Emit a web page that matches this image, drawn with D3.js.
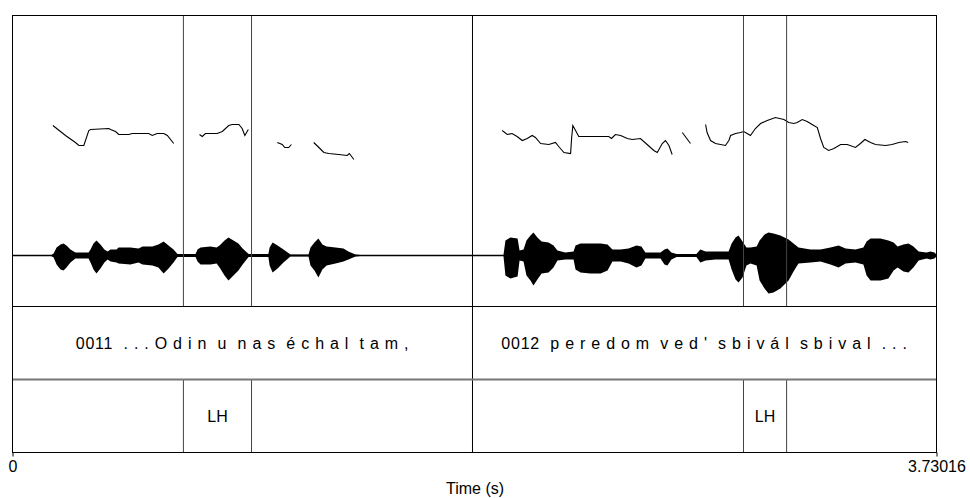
<!DOCTYPE html>
<meta charset="utf-8">
<style>
  body { margin: 0; background: #fff; }
  text { font-family: "Liberation Sans", Arial, sans-serif; fill: #000; }
</style>
<script src="https://d3js.org/d3.v7.min.js"></script>
<div id="praat"></div>
<script>

// total duration of the sound (s)
var duration = 3.73016;

// waveform envelope: time (s), upper and lower amplitude (% of full scale)
var waveTime = [0, 0.153, 0.166, 0.178, 0.194, 0.206, 0.218, 0.234, 0.254, 0.307, 0.315, 0.327, 0.339, 0.355, 0.371, 0.384,
  0.396, 0.420, 0.428, 0.476, 0.509, 0.525, 0.565, 0.589, 0.610, 0.630, 0.650, 0.666, 0.739, 0.747, 0.759, 0.799,
  0.824, 0.836, 0.856, 0.872, 0.892, 0.912, 0.929, 0.953, 1.033, 1.038, 1.050, 1.070, 1.094, 1.122, 1.195, 1.203,
  1.219, 1.235, 1.251, 1.268, 1.304, 1.336, 1.356, 1.385, 1.405, 1.869, 1.982, 1.990, 2.010, 2.039, 2.047, 2.063,
  2.075, 2.091, 2.103, 2.119, 2.136, 2.164, 2.184, 2.200, 2.232, 2.265, 2.273, 2.293, 2.333, 2.374, 2.402, 2.422,
  2.455, 2.487, 2.519, 2.539, 2.555, 2.616, 2.632, 2.644, 2.660, 2.681, 2.761, 2.777, 2.798, 2.838, 2.891, 2.903,
  2.919, 2.931, 2.947, 2.963, 2.979, 3.004, 3.016, 3.036, 3.052, 3.072, 3.100, 3.133, 3.153, 3.173, 3.222, 3.262,
  3.302, 3.335, 3.363, 3.403, 3.435, 3.448, 3.464, 3.504, 3.536, 3.557, 3.573, 3.597, 3.617, 3.637, 3.658, 3.690,
  3.706, 3.722, 3.730];
var waveUpper = [0, 0, 2, 8, 11, 12, 10, 6, 3, 3, 6, 12, 15, 11, 6, 4,
  6, 6, 8, 8, 7, 9, 9, 11, 14, 10, 6, 1.5, 1.5, 6, 8, 9,
  8, 10, 15, 18, 15, 12, 7, 1.5, 1.5, 8, 13, 10, 6, 1, 1, 8,
  13, 17, 11, 9, 8, 7, 4, 1, 0.5, 0.5, 0.5, 15, 18, 17, 5, 6,
  15, 20, 23, 18, 14, 13, 10, 5, 3, 4, 10, 12, 12, 12, 11, 6,
  6, 7, 10, 9, 3, 3, 6, 7, 3, 1.5, 1.5, 6, 4, 4, 4, 12,
  18, 20, 14, 8, 8, 9, 15, 21, 23, 22, 20, 16, 12, 8, 6, 6,
  8, 10, 7, 6, 8, 14, 17, 17, 15, 13, 9, 11, 12, 9, 4, 3,
  4, 3, 1];
var waveLower = [0, 0, 2, 9, 14, 15, 12, 7, 3, 3, 7, 14, 18, 13, 7, 4,
  6, 7, 8, 9, 7, 9, 10, 12, 18, 13, 7, 1.5, 1.5, 6, 9, 9,
  8, 12, 20, 25, 20, 15, 9, 1.5, 1.5, 10, 17, 13, 7, 1, 1, 10,
  15, 22, 14, 10, 8, 6, 4, 1, 0.5, 0.5, 0.5, 20, 23, 21, 5, 6,
  20, 25, 30, 24, 18, 17, 12, 5, 4, 4, 14, 17, 18, 18, 15, 6,
  6, 8, 12, 10, 3, 3, 9, 10, 4, 1.5, 1.5, 7, 5, 4, 4, 14,
  24, 27, 22, 10, 8, 10, 25, 33, 38, 37, 33, 25, 16, 8, 7, 6,
  9, 12, 8, 7, 9, 20, 25, 25, 23, 15, 12, 16, 17, 12, 5, 3,
  4, 3, 1];

// pitch track: time (s) and F0 (Hz), null = unvoiced gap
var pitchTime = [0.163, 0.214, 0.254, 0.268, 0.288, 0.308, 0.315, 0.389, 0.396, 0.416, 0.429, 0.470, 0.483, 0.503, 0.550, 0.564, 0.584, 0.611, 0.625, 0.651, null,
  0.755, 0.766, 0.779, 0.826, 0.847, 0.873, 0.887, 0.914, 0.927, 0.938, 0.952, null,
  1.069, 1.089, 1.099, 1.115, 1.126, null,
  1.216, 1.237, 1.257, 1.277, 1.317, 1.351, 1.360, 1.378, null,
  1.977, 1.997, 2.017, 2.037, 2.058, 2.078, 2.098, 2.111, 2.132, 2.165, 2.192, 2.205, 2.226, 2.253, 2.257, 2.262, 2.273, 2.286,
  2.407, 2.418, 2.434, 2.455, 2.482, 2.502, 2.535, 2.562, 2.589, 2.603, 2.623, 2.636, 2.650, 2.663, null,
  2.704, 2.737, null,
  2.798, 2.804, 2.818, 2.838, 2.878, 2.892, 2.899, 2.919, 2.939, 2.952, 2.966, 2.979, 2.999, 3.020, 3.047, 3.080, 3.114, 3.134,
  3.154, 3.168, 3.188, 3.208, 3.228, 3.249, 3.262, 3.275, 3.295, 3.316, 3.343, 3.370, 3.403, 3.423, 3.441, 3.464, 3.484, 3.524,
  3.551, 3.578, 3.605, 3.616];
var pitchHz = [256, 246, 239, 236, 236, 251, 252, 253, 252, 250, 247, 247, 248, 248, 248, 246, 248, 248, 246, 238, null,
  247, 245, 248, 248, 250, 256, 257, 257, 253, 246, 252, null,
  239, 237, 234, 234, 237, null,
  239, 234, 229, 228, 227, 226, 228, 222, null,
  251, 247, 248, 245, 241, 243, 246, 244, 238, 237, 239, 235, 229, 228, 243, 256, 251, 245,
  245, 243, 247, 246, 243, 242, 243, 237, 231, 229, 238, 241, 236, 227, null,
  249, 238, null,
  257, 249, 241, 238, 236, 241, 246, 248, 249, 250, 248, 246, 253, 258, 261, 264, 262, 259,
  258, 259, 262, 260, 257, 254, 243, 234, 231, 233, 237, 237, 234, 238, 242, 239, 237, 236,
  237, 239, 240, 239];

// TextGrid tier 1 (phrases)
var phraseBounds = [1.857];
var phraseStart = [0, 1.857];
var phraseEnd = [1.857, duration];
var phraseLabels = ["0011  . . . O d i n  u  n a s  é c h a l  t a m ,",
  "0012  p e r e d o m  v e d '  s b i v á l  s b i v a l  . . ."];

// TextGrid tier 2 (tones)
var toneBounds = [0.690, 0.965, 2.951, 3.125];
var toneStart = [0.690, 2.951];
var toneEnd = [0.965, 3.125];
var toneLabels = ["LH", "LH"];

// dimensions
var margin = {top: 15, right: 34, bottom: 46, left: 12},
  width = 970 - margin.left - margin.right,
  height = 498 - margin.top - margin.bottom;

var soundH = 291, tierH = 73;

var svg = d3.select("#praat")
  .append("svg")
    .attr("width", 970)
    .attr("height", 498)
  .append("g")
    .attr("transform", "translate(" + (margin.left + 0.5) + "," + (margin.top + 0.5) + ")");

var x = d3.scaleLinear().domain([0, duration]).range([0, width]);
var yPitch = d3.scaleLinear().domain([75, 366]).range([soundH, 0]);
var yAmp = d3.scaleLinear().domain([-50, 50]).range([soundH - 1, soundH - 101]);

// waveform
var wave = waveTime.map(function(t, i) { return {t: t, hi: waveUpper[i], lo: -waveLower[i]}; });
svg.append("path")
  .datum(wave)
  .attr("d", d3.area()
    .x(function(d) { return x(d.t); })
    .y0(function(d) { return yAmp(d.lo); })
    .y1(function(d) { return yAmp(d.hi); }))
  .style("fill", "#000");

svg.append("line")
  .attr("x1", 0).attr("x2", width)
  .attr("y1", yAmp(0)).attr("y2", yAmp(0))
  .style("stroke", "#000")
  .style("stroke-width", 1.5);

// pitch
var pitch = pitchTime.map(function(t, i) { return {t: t, f: pitchHz[i]}; });
svg.append("path")
  .datum(pitch)
  .attr("d", d3.line()
    .defined(function(d) { return d.t !== null; })
    .x(function(d) { return x(d.t); })
    .y(function(d) { return yPitch(d.f); }))
  .style("fill", "none")
  .style("stroke", "#000")
  .style("stroke-width", 1.1);

// tone boundaries (through sound area and tone tier)
svg.selectAll(".toneB")
  .data(toneBounds).enter()
  .append("path")
    .attr("d", function(d) {
      return "M" + x(d) + ",0V" + soundH + "M" + x(d) + "," + (soundH + tierH) + "V" + height;
    })
    .style("stroke", "#444")
    .style("stroke-width", 1);

// phrase boundaries (full height)
svg.selectAll(".phraseB")
  .data(phraseBounds).enter()
  .append("line")
    .attr("x1", function(d) { return x(d); })
    .attr("x2", function(d) { return x(d); })
    .attr("y1", 0).attr("y2", height)
    .style("stroke", "#000");

// tier separators
svg.append("line")
  .attr("x1", 0).attr("x2", width)
  .attr("y1", soundH).attr("y2", soundH)
  .style("stroke", "#000");
svg.append("line")
  .attr("x1", 0).attr("x2", width)
  .attr("y1", soundH + tierH).attr("y2", soundH + tierH)
  .style("stroke", "#777")
  .style("stroke-width", 2);

// frame
svg.append("rect")
  .attr("width", width).attr("height", height)
  .style("fill", "none")
  .style("stroke", "#000");

// labels
svg.selectAll(".phraseL")
  .data(phraseLabels).enter()
  .append("text")
    .attr("x", function(d, i) { return x((phraseStart[i] + phraseEnd[i]) / 2); })
    .attr("y", soundH + tierH / 2)
    .attr("text-anchor", "middle")
    .attr("dominant-baseline", "central")
    .attr("xml:space", "preserve")
    .style("font-size", "16px")
    .style("letter-spacing", "0.75px")
    .text(function(d) { return d; });

svg.selectAll(".toneL")
  .data(toneLabels).enter()
  .append("text")
    .attr("x", function(d, i) { return x((toneStart[i] + toneEnd[i]) / 2); })
    .attr("y", soundH + tierH + tierH / 2)
    .attr("text-anchor", "middle")
    .attr("dominant-baseline", "central")
    .style("font-size", "16px")
    .text(function(d) { return d; });

// time axis
var axis = svg.append("g")
  .attr("transform", "translate(0," + height + ")")
  .call(d3.axisBottom(x).tickValues([0, duration]).tickSize(4).tickPadding(4)
    .tickFormat(function(d) { return d === 0 ? "0" : "3.73016"; }));
axis.select(".domain").remove();
axis.selectAll("text").style("font-size", "16px").attr("font-family", null);
axis.selectAll("line").style("stroke", "#000");

svg.append("text")
  .attr("x", width / 2 + 0.5)
  .attr("y", height + 41)
  .attr("text-anchor", "middle")
  .style("font-size", "16px")
  .text("Time (s)");

</script>
